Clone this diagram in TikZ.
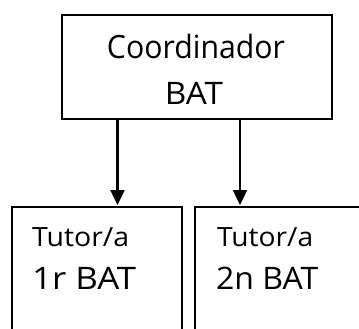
\documentclass[tikz,border=0pt]{standalone}
\usepackage{fontspec}
\setmainfont{Open Sans}
\usetikzlibrary{arrows.meta}
\begin{document}
\begin{tikzpicture}[x=1bp,y=1bp,
  boxstyle/.style={draw=black,line width=2.4bp,inner sep=0pt,anchor=north west},
  txt/.style={inner sep=0pt,text=black},
  arr/.style={line width=2.4bp,-{Triangle[length=15bp,width=14bp]}}]
\useasboundingbox (0,0) rectangle (359,-329);
\clip (0,0) rectangle (359,-329);
\node[boxstyle,minimum width=270bp,minimum height=104bp] (coord) at (61,-14) {};
\node[boxstyle,minimum width=170bp,minimum height=200bp] (lbox) at (11,-206) {};
\node[boxstyle,minimum width=200bp,minimum height=200bp] (rbox) at (194,-206) {};
\node[txt,anchor=base] (t1) at (196,-58) {\resizebox{178bp}{\height}{\fontsize{32bp}{32bp}\selectfont Coordinador}};
\node[txt,anchor=base] (t2) at (194,-104) {\resizebox{58bp}{\height}{\fontsize{31bp}{31bp}\selectfont BAT}};
\node[txt,anchor=base west] (t3) at (32,-246) {\resizebox{97bp}{\height}{\fontsize{26.5bp}{26.5bp}\selectfont Tutor/a}};
\node[txt,anchor=base west] (t4) at (32,-289) {\resizebox{104bp}{\height}{\fontsize{31bp}{31bp}\selectfont 1r BAT}};
\node[txt,anchor=base west] (t5) at (217,-246) {\resizebox{96bp}{\height}{\fontsize{26.5bp}{26.5bp}\selectfont Tutor/a}};
\node[txt,anchor=base west] (t6) at (216,-289) {\resizebox{102bp}{\height}{\fontsize{31bp}{31bp}\selectfont 2n BAT}};
\coordinate (a1) at (117.5,-205);
\coordinate (a2) at (240,-205);
\draw[arr] (coord.south -| a1) -- (a1);
\draw[arr] (coord.south -| a2) -- (a2);
\end{tikzpicture}
\end{document}
